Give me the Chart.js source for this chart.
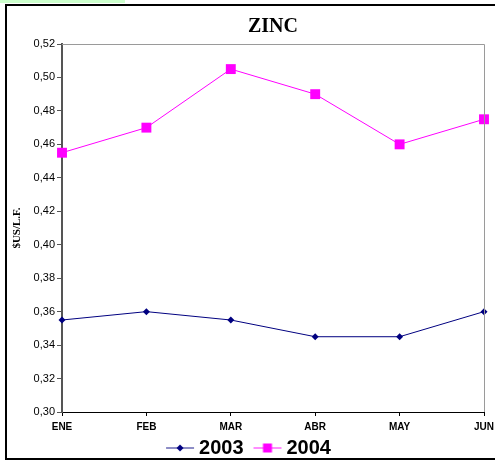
<!DOCTYPE html>
<html>
<head>
<meta charset="utf-8">
<script src="https://cdn.jsdelivr.net/npm/chart.js@4.4.1/dist/chart.umd.min.js"></script>
<style>
  html, body { margin: 0; padding: 0; background: #fff; overflow: hidden; width: 495px; height: 461px; }
  #strip { position: absolute; left: 0; top: 0; width: 125px; height: 3px; background: #ccffcc; }
  #frame { position: absolute; left: 5px; top: 4px; width: 500px; height: 452px; border: 2px solid #000; }
  #zinc { position: absolute; left: 0; top: 0; }
</style>
</head>
<body>
<div id="strip"></div>
<div id="frame"></div>
<canvas id="zinc" width="495" height="461"></canvas>
<script>
// datos
let meses = ["ENE", "FEB", "MAR", "ABR", "MAY", "JUN"];
let zinc2003 = [0.355, 0.360, 0.355, 0.345, 0.345, 0.360];
let zinc2004 = [0.455, 0.470, 0.505, 0.490, 0.460, 0.475];
let yTicksMin = 0.30;
let yTicksMax = 0.52;
let yTicksStep = 0.02;

// legend icons: line with marker in the middle (line sits in x 14..42 of the icon)
function legendIcon(color, marker) {
    let c = document.createElement("canvas");
    c.width = 46;
    c.height = 12;
    let g = c.getContext("2d");
    g.strokeStyle = color;
    g.globalAlpha = 0.6;
    g.lineWidth = 1.5;
    g.beginPath();
    g.moveTo(14, 6);
    g.lineTo(42, 6);
    g.stroke();
    g.globalAlpha = 1;
    g.fillStyle = color;
    g.beginPath();
    if (marker === "diamond") {
        g.moveTo(28, 2.5); g.lineTo(31.5, 6); g.lineTo(28, 9.5); g.lineTo(24.5, 6);
        g.closePath();
    } else {
        g.rect(23.5, 1.5, 9, 9);
    }
    g.fill();
    return c;
}

// gray top/right border of plot area
let plotBorder = {
    id: "plotBorder",
    afterDraw(chart) {
        let a = chart.chartArea;
        let ctx = chart.ctx;
        ctx.save();
        ctx.strokeStyle = "#9a9a9a";
        ctx.lineWidth = 1;
        ctx.beginPath();
        ctx.moveTo(a.left, a.top + 0.5);
        ctx.lineTo(a.right + 0.5, a.top + 0.5);
        ctx.lineTo(a.right + 0.5, a.bottom);
        ctx.stroke();
        ctx.restore();
    }
};

var ctx = document.getElementById("zinc");
var zincChart = new Chart(ctx, {
    type: "line",
    data: {
        labels: meses,
        datasets: [{
            label: "2003",
            data: zinc2003,
            borderColor: "#000080",
            backgroundColor: "#000080",
            borderWidth: 1,
            pointStyle: "rectRot",
            pointRadius: 3.5,
            pointBorderWidth: 0,
            tension: 0
        }, {
            label: "2004",
            data: zinc2004,
            borderColor: "#ff00ff",
            backgroundColor: "#ff00ff",
            borderWidth: 1,
            pointStyle: "rect",
            pointRadius: 7,
            pointBorderWidth: 0,
            tension: 0
        }]
    },
    options: {
        responsive: false,
        animation: false,
        devicePixelRatio: 1,
        layout: { padding: { left: 8, right: 11, top: 5, bottom: -7 } },
        plugins: {
            title: {
                display: true,
                fullSize: false,
                text: "ZINC",
                color: "#000",
                font: { family: "'Liberation Serif', 'Times New Roman', serif", size: 20, weight: "bold" },
                padding: { top: 10, bottom: 5 }
            },
            legend: {
                position: "bottom",
                labels: {
                    usePointStyle: true,
                    pointStyleWidth: 28,
                    padding: 5,
                    color: "#000",
                    font: { family: "'Liberation Sans', Arial, sans-serif", size: 20, weight: "bold" },
                    generateLabels(chart) {
                        return chart.data.datasets.map((ds, i) => ({
                            text: ds.label,
                            pointStyle: legendIcon(ds.borderColor, i === 0 ? "diamond" : "square"),
                            fillStyle: ds.borderColor,
                            strokeStyle: ds.borderColor,
                            lineWidth: 0,
                            datasetIndex: i
                        }));
                    }
                }
            },
            tooltip: { enabled: false }
        },
        scales: {
            x: {
                offset: false,
                afterFit(scale) {
                    scale.height = 21;
                    scale.paddingLeft = 0;
                    scale.paddingRight = 0;
                },
                grid: { display: true, drawOnChartArea: false, color: "#000", tickLength: 4 },
                border: { color: "#000", width: 1 },
                ticks: {
                    color: "#000",
                    padding: 5,
                    maxRotation: 0,
                    font: { family: "'Liberation Sans', Arial, sans-serif", size: 10, weight: "bold" }
                }
            },
            y: {
                min: yTicksMin,
                max: yTicksMax,
                afterFit(scale) { scale.width = 54; },
                grid: { display: true, drawOnChartArea: false, color: "#555", tickLength: 5 },
                border: { color: "#555", width: 2 },
                title: {
                    display: true,
                    text: "$US/L.F.",
                    color: "#000",
                    padding: { top: 3, bottom: 0 },
                    font: { family: "'Liberation Serif', 'Times New Roman', serif", size: 11, weight: "bold" }
                },
                ticks: {
                    stepSize: yTicksStep,
                    color: "#000",
                    padding: 2,
                    font: { family: "'Liberation Sans', Arial, sans-serif", size: 11 },
                    callback: function(value) {
                        return (Math.round(value * 100) / 100).toFixed(2).replace(".", ",");
                    }
                }
            }
        }
    },
    plugins: [plotBorder]
});
</script>
</body>
</html>
